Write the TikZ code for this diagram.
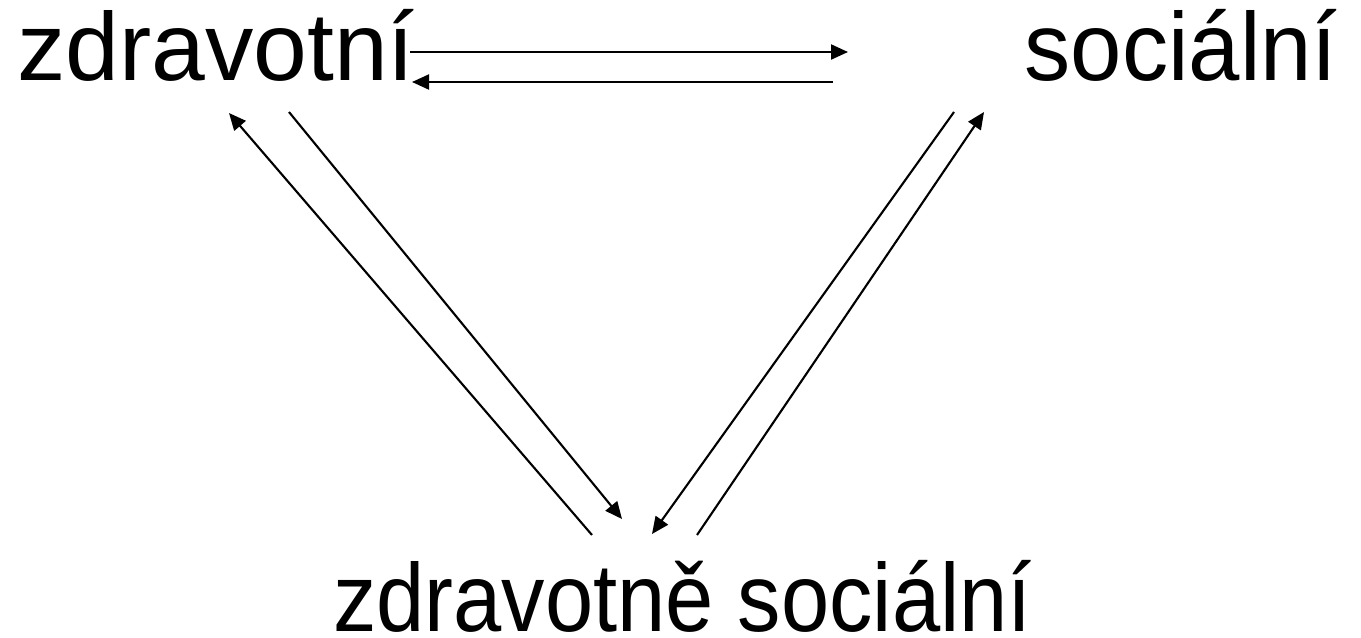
\documentclass[tikz,border=0pt]{standalone}
\usepackage{fontspec}
\setmainfont{Liberation Sans}
\usetikzlibrary{arrows.meta}

\begin{document}
\begin{tikzpicture}[x=0.02cm, y=-0.02cm,
    word/.style={inner sep=0pt, font=\fontsize{55}{60}\selectfont},
    link/.style={line width=1.2pt, -{Triangle[length=0.34cm, width=0.3cm]}}]
    \useasboundingbox (0,0) rectangle (1361,637);
    % Three areas of care
    \node[word, anchor=base west] (zdrav) at (17,80) {zdravotní};
    \node[word, anchor=base east, xscale=0.955, transform shape] (soc) at (1338,80) {sociální};
    \node[word, anchor=base west, xscale=0.897, transform shape] (zdravsoc) at (333,631) {zdravotně sociální};
    % Arrow ends
    \coordinate (topA) at (410,52);
    \coordinate (topB) at (848,52);
    \coordinate (lowA) at (833,82);
    \coordinate (lowB) at (412,82);
    \coordinate (leftUpA) at (592,535);
    \coordinate (leftUpB) at (229,113);
    \coordinate (leftDnA) at (289,112);
    \coordinate (leftDnB) at (622,519);
    \coordinate (rightDnA) at (954,112);
    \coordinate (rightDnB) at (652,534);
    \coordinate (rightUpA) at (697,535);
    \coordinate (rightUpB) at (984,112);
    % Arrows between the areas
    \draw[link] (topA) -- (topB);
    \draw[link] (lowA) -- (lowB);
    \draw[link] (leftUpA) -- (leftUpB);
    \draw[link] (leftDnA) -- (leftDnB);
    \draw[link] (rightDnA) -- (rightDnB);
    \draw[link] (rightUpA) -- (rightUpB);
\end{tikzpicture}
\end{document}
